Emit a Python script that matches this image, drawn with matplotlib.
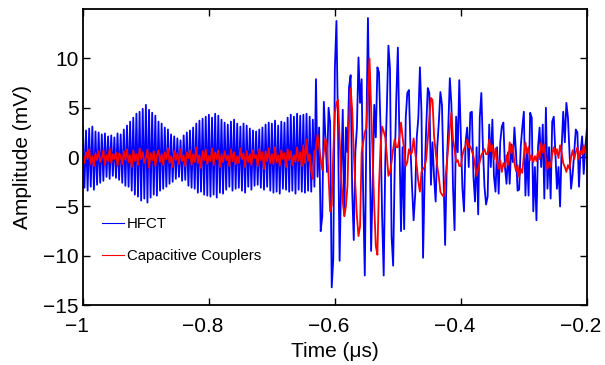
import numpy as np
import matplotlib
matplotlib.use('Agg')
import matplotlib.pyplot as plt
import matplotlib.transforms as mtrans

plt.rcParams['font.family'] = ['Liberation Sans', 'DejaVu Sans']

# sampled signals, one value every 2.5 ns from -1 to -0.2 us
hfct_pre = [3.0, -3.1, 2.7, -3.4, 2.9, -3.0, 3.1, -3.3, 2.6, -2.8,
            2.5, -2.6, 2.3, -2.4, 2.4, -2.0, 2.1, -2.2, 2.2, -1.9,
            2.0, -2.1, 2.4, -2.3, 2.3, -2.6, 2.8, -2.9, 3.2, -3.0,
            3.6, -3.4, 4.0, -3.8, 4.4, -4.0, 4.6, -4.4, 4.9, -4.2,
            5.3, -4.6, 4.8, -4.1, 4.5, -3.8, 4.2, -3.9, 3.6, -3.4,
            3.4, -3.2, 3.0, -3.0, 2.8, -2.7, 2.3, -2.5, 2.1, -2.2,
            1.9, -2.0, 1.7, -2.4, 2.2, -2.3, 2.5, -2.9, 2.7, -3.1,
            3.0, -3.2, 3.4, -3.6, 3.7, -3.5, 3.9, -3.8, 4.1, -3.9,
            4.3, -4.0, 4.0, -3.8, 4.4, -4.1, 4.2, -3.6, 3.8, -3.7,
            3.5, -3.3, 3.3, -3.0, 3.6, -3.4, 3.8, -3.2, 3.4, -3.1,
            3.1, -3.4, 3.4, -3.6, 3.2, -3.0, 2.9, -3.3, 2.7, -2.9,
            2.6, -2.8, 2.8, -3.1, 3.0, -3.3, 3.3, -3.0, 3.5, -3.4,
            3.4, -3.6, 3.7, -3.5, 3.2, -3.7, 3.6, -3.2, 3.5, -3.3,
            4.0, -3.5, 4.3, -3.4, 4.1, -3.7, 4.4, -3.3, 4.2, -3.5,
            4.3, -3.6, 4.4, -3.4, 4.1, -3.5, 3.8, -3.0]
hfct_burst = [7.9, -2.0, 3.0, -7.5, -6.0, 5.6, 2.0, -1.5, 5.0, 3.5,
              -13.2, -10.3, 9.0, 13.8, 3.0, -10.5, -2.0, 4.8, -5.9, 3.0,
              0.5, 7.1, 8.3, -3.5, -8.4, 0.5, 3.0, 10.1, 5.5, 7.9,
              -4.0, -12.0, 2.5, 14.1, 3.0, -9.5, -3.0, 5.3, 2.0, 9.1,
              8.6, 3.0, -6.0, -12.0, -0.5, 5.0, 11.3, 9.0, -8.0, -11.0,
              -1.0, 6.0, 11.1, 2.0, -7.5, 1.0, -7.3, 4.0, 6.5, 6.8,
              1.0, -3.0, -6.4, -3.8, 2.0, 4.0, 9.1, 4.5, -10.2, -2.0,
              3.0, 7.0, 6.5, -2.8, 1.5, -2.0, -4.5, 1.0, 3.5, 6.6,
              5.3, -2.0, -8.9, -1.0, 3.0, 8.0, 5.3, -3.0, -7.4, 4.1,
              0.5, 7.8, 2.0, -3.2, -5.5, 1.5, 3.0, -1.0, 4.5, 4.6,
              -2.0, -4.5, 1.0, -5.8, 4.0, 6.5, 1.0, -3.0, -4.8]
hfct_post = [-4.0, 3.3, -1.0, 3.8, -1.9, -3.5, 1.0, -3.7, 1.5, 3.1,
             3.5, -1.0, -2.7, 0.5, -2.7, 1.3, -0.5, 3.0, 0.5, -3.4,
             -3.3, 1.0, 3.0, 4.6, -3.9, 0.5, -3.9, 4.5, 4.0, -5.5,
             -1.0, -6.4, 1.0, 3.0, -1.0, 3.3, -4.2, 5.0, -3.2, 1.0,
             -4.2, 3.6, 4.1, 0.5, -3.2, -1.0, -5.0, 1.0, 4.6, 1.5,
             5.5, 4.0, 0.5, -3.2, -1.7, 0.5, 2.8, 2.5, -3.0, 0.5,
             2.1, -1.7, 1.0, 2.8]

cc_pre = [0.3, -0.6, 0.5, -0.2, 0.8, -0.7, 0.1, -0.9, 0.4, -0.3,
          0.6, -0.5, -0.1, 0.7, -0.8, 0.2, -0.4, 0.9, -0.6, 0.3,
          -0.2, 0.5, -0.9, 0.4, 0.1, -0.7, 0.6, -0.3, 0.8, -0.5,
          0.2, -1.0, 0.7, -0.4, 0.3, -0.8, 0.9, -0.2, 0.5, -0.6,
          -0.1, 0.8, -1.1, 0.4, -0.3, 0.6, -0.9, 0.2, 0.7, -0.5,
          0.3, -0.8, 0.5, -0.2, 0.9, -0.6, 0.1, -1.0, 0.6, -0.3,
          0.4, -0.7, 0.8, -0.4, 0.2, -0.9, 0.5, -0.1, 0.7, -0.8,
          0.3, -0.5, 1.0, -0.6, 0.2, -1.1, 0.6, -0.3, 0.8, -0.7,
          0.1, -0.4, 0.9, -0.8, 0.5, -0.2, 0.7, -1.0, 0.3, -0.5,
          0.6, -0.3, 0.2, -0.9, 0.8, -0.4, 0.5, -0.7, 0.1, -0.6,
          0.9, -0.2, 0.4, -1.0, 0.6, -0.5, 0.3, -0.8, 0.7, -0.1,
          0.2, -0.9, 0.8, -0.3, 0.5, -1.2, 0.6, -0.4, 0.9, -0.6,
          0.3, -0.7, 1.0, -0.5, 0.2, -0.9, 0.7, -0.2, 0.4, -1.0,
          0.8, -0.3, 0.6, -0.8, 0.2, -0.5, 1.0, -0.4, 0.5, -0.9,
          1.2, -0.6, 1.8, -0.4, 0.3, -1.5, -2.2, 0.6]
cc_burst = [0.8, 2.3, 1.0, -0.2, -1.3, 0.5, 1.9, 1.2, -2.0, -5.5,
            -4.9, 0.5, 4.5, 5.5, 5.8, 1.8, -2.0, -4.5, -6.0, -5.0,
            -2.9, 3.5, 7.0, 4.8, 0.5, -2.9, -6.0, -8.0, -7.0, 0.5,
            1.5, 2.5, 3.0, 6.5, 10.0, 5.0, 0.2, -5.0, -9.0, -9.9,
            -3.0, 1.1, 3.1, 2.6, 2.0, 0.2, -1.9, -1.5, -0.5, 0.8,
            1.8, 1.0, 1.0, 2.0, 3.5, 2.0, 0.8, -0.9, -0.5, 0.8,
            0.3, 0.5, 1.9, 0.5, -0.9, -2.5, -3.5, -1.5, -1.2, -1.0,
            -0.2, 1.8, 4.0, 6.0, 5.8, 2.1, 0.5, -0.9, -2.0, -3.5,
            -3.8, -4.0, -2.5, -0.9, 1.0, 3.0, 4.5, 1.8, 0.8, -0.5,
            -0.3, -0.9, -0.9, 0.2, 0.8, 1.2, 1.8, 1.0, 1.1, 0.6,
            0.1, -0.8, -1.9, -1.2, -0.5, 0.2, 0.5, 0.8, 0.3]
cc_post = [0.3, 1.8, 0.6, 1.2, -0.2, 0.9, -0.5, -1.2, -0.3, -1.5,
           -0.6, -1.0, 0.2, -0.8, 1.5, 0.4, 1.2, -0.6, -1.4, -0.8,
           -2.0, -1.2, -1.6, 0.2, 1.5, 0.4, 1.0, -0.3, 0.2, -0.5,
           0.1, -0.4, 0.6, -0.2, 1.5, 0.5, 1.3, -0.4, -1.2, -0.5,
           -1.0, 0.3, 1.0, 0.2, 0.8, -0.1, 1.2, 0.4, -0.6, -1.0,
           -1.5, -0.8, -1.2, 0.0, 0.7, -0.2, 0.5, 1.0, -0.2, 0.6,
           0.3, 1.2, 0.4, 0.9]

hfct = np.array(hfct_pre + hfct_burst + hfct_post)
cc = np.array(cc_pre + cc_burst + cc_post)
t_hfct = np.linspace(-1, -0.2, len(hfct))
t_cc = np.linspace(-1, -0.2, len(cc))

fig = plt.figure(figsize=(6.05, 3.65), dpi=100)
ax = fig.add_axes([0.137, 0.164, 0.833, 0.811])
ax.plot(t_hfct, hfct, color='#0000ff', lw=1.3, label='HFCT')
ax.plot(t_cc, cc, color='#ff0000', lw=1.3, label='Capacitive Couplers')

ax.set_xlim(-1, -0.2)
ax.set_ylim(-15, 15)
ax.set_xticks([-1, -0.8, -0.6, -0.4, -0.2])
ax.set_xticklabels(['\u22121', '\u22120.8', '\u22120.6', '\u22120.4', '\u22120.2'])
ax.set_yticks([-15, -10, -5, 0, 5, 10])
ax.tick_params(direction='in', top=True, right=True, length=5, width=1,
               labelsize=15)
ax.tick_params(axis='x', pad=8.5)
ax.tick_params(axis='y', pad=3)
# matlab style labels sit a bit left of their ticks
shift = mtrans.ScaledTranslation(-6 / 100, 0, fig.dpi_scale_trans)
for lab in ax.get_xticklabels():
    lab.set_transform(lab.get_transform() + shift)
for s in ax.spines.values():
    s.set_linewidth(1.3)
ax.set_xlabel('Time (\u03bcs)', fontsize=15, labelpad=4)
ax.set_ylabel('Amplitude (mV)', fontsize=15, labelpad=8)

leg = ax.legend(loc='upper left', bbox_to_anchor=(0.037, 0.297), frameon=False,
                fontsize=10.8, handlelength=1.5, handletextpad=0.2,
                labelspacing=1.2, borderaxespad=0, borderpad=0)
for ln in leg.get_lines():
    ln.set_linewidth(0.8)

fig.savefig('out.png', dpi=100)
